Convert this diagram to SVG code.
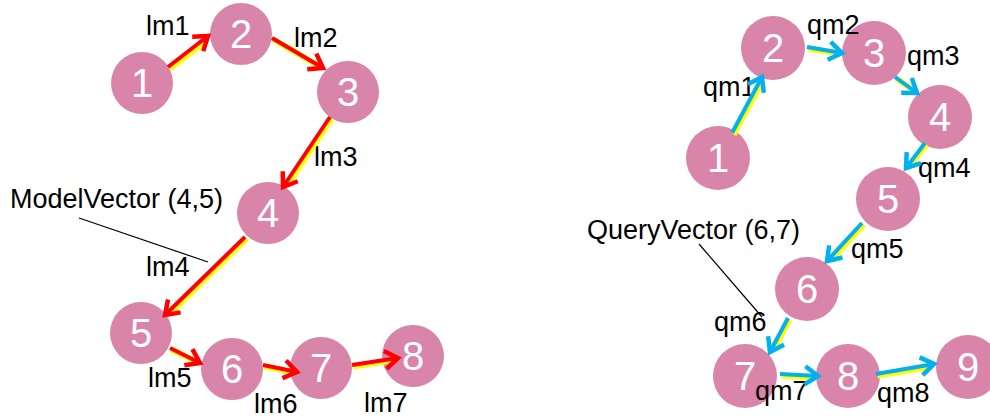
<svg xmlns="http://www.w3.org/2000/svg" width="990" height="419" viewBox="0 0 990 419">
<style>
.node{fill:#d985aa}
.num{fill:#fff;font-family:"Liberation Sans",Arial,sans-serif;font-size:40px;text-anchor:middle}
.lbl{fill:#000;font-family:"Liberation Sans",Arial,sans-serif;font-size:27px}
.y{stroke:#ffff00;stroke-width:6;fill:none}
.r{stroke:#ff0000;stroke-width:4;fill:none}
.b{stroke:#00b0f0;stroke-width:4;fill:none}
.lead{stroke:#000;stroke-width:1.2;fill:none}
</style>
<defs>
<marker id="ar" markerUnits="userSpaceOnUse" markerWidth="30" markerHeight="30" refX="0" refY="0" viewBox="-16 -15 30 30" orient="auto" overflow="visible">
<path d="M-13,-9 L0,0 L-13,9" stroke="#ff0000" stroke-width="4.5" fill="none"/>
</marker>
<marker id="ab" markerUnits="userSpaceOnUse" markerWidth="30" markerHeight="30" refX="0" refY="0" viewBox="-16 -15 30 30" orient="auto" overflow="visible">
<path d="M-13,-9 L0,0 L-13,9" stroke="#00b0f0" stroke-width="4.5" fill="none"/>
</marker>
</defs>
<g id="left-nodes">
<g id="L1"><circle class="node" cx="142" cy="83" r="31"/><text class="num" x="142" y="97">1</text></g>
<g id="L2"><circle class="node" cx="241" cy="34" r="31"/><text class="num" x="241" y="48">2</text></g>
<g id="L3"><circle class="node" cx="348" cy="92" r="31"/><text class="num" x="348" y="106">3</text></g>
<g id="L4"><circle class="node" cx="268" cy="213" r="31"/><text class="num" x="268" y="227">4</text></g>
<g id="L5"><circle class="node" cx="141" cy="333" r="31"/><text class="num" x="141" y="347">5</text></g>
<g id="L6"><circle class="node" cx="232" cy="369" r="31"/><text class="num" x="232" y="383">6</text></g>
<g id="L7"><circle class="node" cx="321" cy="368" r="31"/><text class="num" x="321" y="382">7</text></g>
<g id="L8"><circle class="node" cx="413" cy="356" r="31"/><text class="num" x="413" y="370">8</text></g>
</g>
<g id="right-nodes">
<g id="R1"><circle class="node" cx="718" cy="158" r="32"/><text class="num" x="718" y="172">1</text></g>
<g id="R2"><circle class="node" cx="773" cy="48" r="32"/><text class="num" x="773" y="62">2</text></g>
<g id="R3"><circle class="node" cx="874" cy="53" r="32"/><text class="num" x="874" y="67">3</text></g>
<g id="R4"><circle class="node" cx="940" cy="117" r="32"/><text class="num" x="940" y="131">4</text></g>
<g id="R5"><circle class="node" cx="888" cy="199" r="32"/><text class="num" x="888" y="213">5</text></g>
<g id="R6"><circle class="node" cx="807" cy="289" r="32"/><text class="num" x="807" y="303">6</text></g>
<g id="R7"><circle class="node" cx="745" cy="376" r="32"/><text class="num" x="745" y="390">7</text></g>
<g id="R8"><circle class="node" cx="848" cy="376" r="32"/><text class="num" x="848" y="390">8</text></g>
<g id="R9"><circle class="node" cx="968" cy="367" r="32"/><text class="num" x="968" y="381">9</text></g>
</g>
<g id="labels">
<text class="lbl" x="146" y="35">lm1</text>
<text class="lbl" x="294" y="47">lm2</text>
<text class="lbl" x="314" y="166">lm3</text>
<text class="lbl" x="146" y="276">lm4</text>
<text class="lbl" x="148" y="387">lm5</text>
<text class="lbl" x="254" y="413">lm6</text>
<text class="lbl" x="364" y="412">lm7</text>
<text class="lbl" x="10" y="208">ModelVector (4,5)</text>
<text class="lbl" x="703" y="96">qm1</text>
<text class="lbl" x="807" y="34">qm2</text>
<text class="lbl" x="907" y="65">qm3</text>
<text class="lbl" x="918" y="177">qm4</text>
<text class="lbl" x="851" y="258">qm5</text>
<text class="lbl" x="714" y="331">qm6</text>
<text class="lbl" x="755" y="400">qm7</text>
<text class="lbl" x="877" y="402">qm8</text>
<text class="lbl" x="587" y="239">QueryVector (6,7)</text>
</g>
<g id="connectors">
<line class="lead" x1="79" y1="218" x2="208" y2="262"/>
<line class="lead" x1="699" y1="244" x2="762" y2="317"/>
<g transform="translate(1.5,1.5)">
<line class="y" x1="168" y1="67" x2="205" y2="39"/>
<line class="y" x1="272" y1="38" x2="320" y2="66"/>
<line class="y" x1="330" y1="117" x2="286" y2="183"/>
<line class="y" x1="245" y1="237" x2="168" y2="312"/>
<line class="y" x1="170" y1="348" x2="197" y2="361"/>
<line class="y" x1="263" y1="365" x2="294" y2="371"/>
<line class="y" x1="352" y1="365" x2="395" y2="358"/>
<line class="y" x1="732" y1="133" x2="760" y2="81"/>
<line class="y" x1="807" y1="47" x2="838" y2="52"/>
<line class="y" x1="895" y1="77" x2="914" y2="90"/>
<line class="y" x1="925" y1="143" x2="908" y2="164"/>
<line class="y" x1="862" y1="223" x2="830" y2="258"/>
<line class="y" x1="788" y1="318" x2="772" y2="348"/>
<line class="y" x1="780" y1="374" x2="814" y2="376"/>
<line class="y" x1="876" y1="374" x2="930" y2="365"/>
</g>
<line class="r" x1="168" y1="67" x2="208" y2="36" marker-end="url(#ar)"/>
<line class="r" x1="272" y1="38" x2="323" y2="68" marker-end="url(#ar)"/>
<line class="r" x1="330" y1="117" x2="283" y2="187" marker-end="url(#ar)"/>
<line class="r" x1="245" y1="237" x2="165" y2="315" marker-end="url(#ar)"/>
<line class="r" x1="170" y1="348" x2="200" y2="363" marker-end="url(#ar)"/>
<line class="r" x1="263" y1="365" x2="297" y2="372" marker-end="url(#ar)"/>
<line class="r" x1="352" y1="365" x2="398" y2="358" marker-end="url(#ar)"/>
<line class="b" x1="732" y1="133" x2="762" y2="77" marker-end="url(#ab)"/>
<line class="b" x1="807" y1="47" x2="842" y2="53" marker-end="url(#ab)"/>
<line class="b" x1="895" y1="77" x2="917" y2="93" marker-end="url(#ab)"/>
<line class="b" x1="925" y1="143" x2="906" y2="168" marker-end="url(#ab)"/>
<line class="b" x1="862" y1="223" x2="827" y2="261" marker-end="url(#ab)"/>
<line class="b" x1="788" y1="318" x2="770" y2="352" marker-end="url(#ab)"/>
<line class="b" x1="780" y1="374" x2="818" y2="376" marker-end="url(#ab)"/>
<line class="b" x1="876" y1="374" x2="934" y2="364" marker-end="url(#ab)"/>
</g>
</svg>
